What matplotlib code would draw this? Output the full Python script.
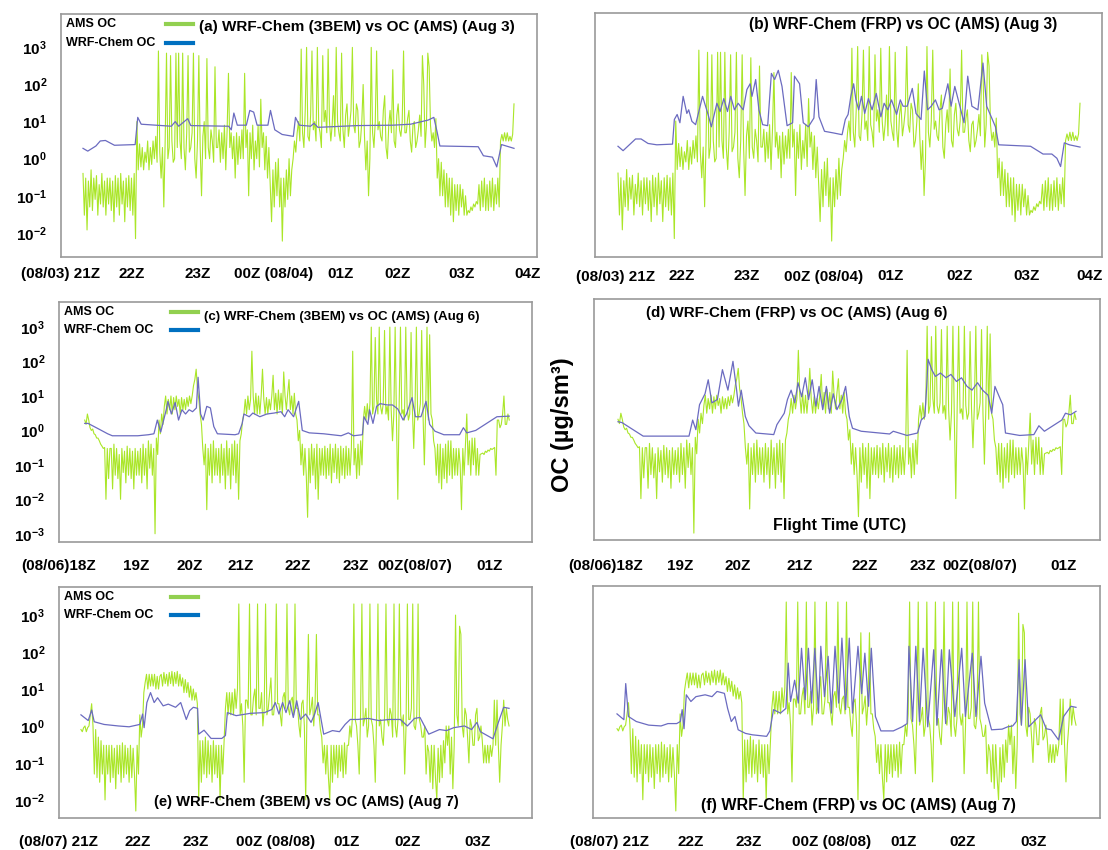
import matplotlib.pyplot as plt
import numpy as np

plt.rcParams['font.family'] = ['Liberation Sans', 'DejaVu Sans']
plt.rcParams['font.weight'] = 'bold'
plt.rcParams['mathtext.fontset'] = 'custom'
plt.rcParams['mathtext.rm'] = 'Liberation Sans:bold'
plt.rcParams['mathtext.bf'] = 'Liberation Sans:bold'

# AMS OC (ug/sm3), samples evenly spread over each flight
ams_aug3 = [
    0.4, 0.03, 0.3, 0.012, 0.25, 0.05, 0.5, 0.04, 0.3, 0.08, 0.35, 0.03, 0.2, 0.06, 0.4, 0.05, 0.25, 0.03, 0.3, 0.06,
    0.3, 0.04, 0.25, 0.02, 0.35, 0.05, 0.3, 0.03, 0.4, 0.06, 0.25, 0.02, 0.3, 0.05, 0.35, 0.04, 0.3, 0.03, 0.4, 0.007,
    10, 0.5, 2.5, 0.6, 2, 0.5, 1.5, 0.8, 3, 0.5, 2, 0.7, 3, 1, 4, 0.8, 800, 1.5, 0.3, 2,
    0.05, 3, 700, 1, 2, 600, 3, 0.8, 1, 700, 2, 700, 3, 1, 700, 2, 0.5, 5, 600, 1.5,
    2, 5, 700, 1, 0.3, 3, 600, 2, 0.1, 4, 10, 1, 500, 2, 1, 6, 3, 0.8, 300, 2,
    2, 6, 0.8, 5, 1, 8, 0.5, 6, 200, 2, 5, 1, 4, 0.3, 5, 0.7, 4, 1, 6, 1,
    200, 2, 6, 0.1, 5, 1, 8, 0.5, 3, 1, 8, 0.6, 40, 2, 5, 0.5, 4, 0.3, 2, 0.2,
    0.02, 0.5, 0.05, 0.8, 0.1, 1, 0.05, 0.3, 0.006, 0.3, 0.05, 0.5, 0.08, 1, 0.1, 0.5, 1, 3, 1.5, 5,
    10, 3, 900, 5, 2, 20, 1000, 4, 3, 15, 800, 6, 10, 3, 1000, 8, 5, 2, 600, 10,
    20, 5, 900, 10, 3, 8, 50, 4, 1000, 10, 5, 3, 700, 6, 2, 15, 30, 4, 8, 20,
    1000, 8, 5, 30, 20, 2, 3, 10, 100, 4, 0.5, 3, 0.1, 1, 1000, 5, 2, 10, 800, 6,
    10, 4, 3, 20, 50, 2, 1, 8, 20, 5, 250, 3, 2, 15, 30, 6, 4, 10, 800, 5,
    5, 12, 20, 3, 1.5, 8, 10, 2, 3, 6, 15, 4, 600, 100, 2, 8, 700, 300, 8, 3,
    5, 2, 12, 0.3, 1, 0.1, 0.8, 0.1, 0.5, 0.05, 0.4, 0.05, 0.3, 0.03, 0.3, 0.02, 0.2, 0.04, 0.2, 0.03,
    0.2, 0.05, 0.15, 0.03, 0.1, 0.03, 0.04, 0.035, 0.05, 0.04, 0.06, 0.05, 0.07, 0.06, 0.2, 0.04, 0.25, 0.05, 0.3, 0.04,
    0.2, 0.04, 0.25, 0.05, 0.3, 0.04, 0.2, 0.06, 0.3, 0.05, 3, 4.5, 3, 5, 3, 5, 3, 4, 3, 4.5,
    30]

ams_aug6 = [
    2, 1.5, 3, 2, 1.2, 1.0, 1.1, 0.8, 0.75, 0.6, 0.6, 0.5, 0.4, 0.35, 0.3, 0.32, 0.01, 0.3, 0.04, 0.3,
    0.3, 0.02, 0.4, 0.05, 0.3, 0.04, 0.2, 0.01, 0.3, 0.06, 0.25, 0.03, 0.35, 0.05, 0.3, 0.04, 0.25, 0.02, 0.3, 0.05,
    0.25, 0.05, 0.3, 0.03, 0.4, 0.05, 0.3, 0.02, 0.5, 0.08, 0.4, 0.05, 0.3, 0.001, 0.6, 0.2, 2, 0.8, 3, 1.5,
    5, 10, 3, 8, 4, 10, 3, 9, 4, 10, 5, 8, 3, 9, 4, 8, 4, 9, 5, 10,
    6, 10, 20, 30, 60, 15, 8, 3, 1.5, 0.3, 0.1, 0.4, 0.005, 0.3, 0.05, 0.4, 0.03, 0.5, 0.05, 0.3,
    0.05, 0.3, 0.03, 0.4, 0.05, 0.3, 0.02, 0.5, 0.05, 0.3, 0.02, 0.4, 0.05, 0.5, 0.03, 0.4, 0.01, 0.5, 0.8, 2,
    3, 8, 3, 10, 4, 8, 200, 10, 3, 12, 3, 10, 3, 10, 60, 8, 3, 9, 3, 8,
    4, 10, 40, 4, 12, 3, 15, 4, 12, 3, 50, 10, 4, 12, 30, 4, 10, 3, 12, 3,
    2, 0.5, 1, 0.1, 0.4, 0.05, 0.3, 0.05, 0.003, 0.3, 0.03, 0.4, 0.05, 0.3, 0.02, 0.4, 0.01, 0.3, 0.05, 0.3,
    0.05, 0.35, 0.04, 0.3, 0.05, 0.4, 0.03, 0.3, 0.06, 0.4, 0.04, 0.3, 0.03, 0.35, 0.05, 0.3, 0.04, 0.35, 0.05, 0.3,
    0.05, 0.3, 200, 0.1, 0.3, 0.04, 0.4, 0.05, 0.5, 0.1, 2, 5, 2, 6, 2, 6, 1000, 3, 5, 500,
    8, 3, 1000, 5, 3, 6, 800, 3, 5, 2, 1000, 4, 0.5, 3, 1000, 2, 0.01, 5, 1000, 3,
    4, 2, 1000, 5, 2, 3, 700, 4, 0.3, 5, 1000, 2, 3, 6, 800, 3, 0.1, 4, 1000, 2,
    600, 3, 2, 0.5, 0.3, 0.05, 0.4, 0.03, 0.4, 0.02, 0.3, 0.04, 0.4, 0.03, 0.5, 0.05, 0.5, 0.04, 0.3, 0.05,
    0.3, 0.05, 0.3, 0.1, 0.005, 0.3, 0.05, 0.4, 3, 0.1, 0.5, 0.05, 0.6, 0.1, 0.6, 0.05, 0.3, 0.05, 0.2, 0.21,
    0.22, 0.2, 0.25, 0.23, 0.27, 0.25, 0.3, 0.28, 0.3, 0.32, 0.05, 2, 2, 1.2, 1.5, 3, 10, 1.5, 1.5, 3,
    2]

ams_aug7 = [
    0.8, 0.7, 0.9, 1, 0.7, 0.9, 1.0, 2, 4, 1, 0.05, 0.8, 0.04, 0.5, 0.03, 0.4, 0.05, 0.3, 0.01, 0.3,
    0.05, 0.3, 0.03, 0.3, 0.04, 0.25, 0.02, 0.3, 0.05, 0.3, 0.03, 0.35, 0.04, 0.3, 0.05, 0.25, 0.03, 0.3, 0.04, 0.25,
    0.05, 0.005, 0.3, 0.05, 2, 0.5, 1, 8, 15, 25, 10, 25, 12, 25, 12, 25, 10, 22, 10, 22,
    25, 12, 28, 14, 25, 12, 28, 14, 30, 12, 28, 14, 30, 12, 25, 12, 20, 8, 18, 8,
    15, 6, 12, 5, 10, 5, 8, 4, 0.01, 0.4, 0.03, 0.4, 0.05, 0.5, 0.04, 0.4, 0.05, 0.3, 0.03, 0.4,
    0.05, 0.3, 0.04, 0.3, 0.01, 0.3, 0.05, 0.4, 3, 8, 2, 8, 2, 8, 2, 10, 3, 10, 2000, 2,
    4, 1, 0.03, 5, 5, 3, 2000, 2, 2, 6, 10, 2, 2000, 3, 3, 8, 1, 3, 2000, 2,
    3, 8, 20, 2, 2, 5, 2000, 4, 4, 2, 1, 6, 8, 3, 2000, 3, 2, 5, 6, 2,
    2000, 3, 3, 1, 0.5, 4, 5, 1, 0.01, 3, 300, 2, 3, 6, 1, 4, 300, 2, 2, 0.8,
    0.5, 0.1, 0.3, 0.05, 0.3, 0.04, 0.01, 0.3, 0.03, 0.3, 0.05, 0.3, 0.04, 0.3, 0.06, 0.3, 0.04, 0.35, 0.05, 0.3,
    0.3, 1, 0.5, 2, 2000, 1.5, 1, 0.3, 0.05, 2, 2000, 1, 1.5, 3, 0.5, 1, 2000, 1.5, 1, 0.3,
    0.03, 2, 2000, 1, 1.5, 0.5, 0.3, 2, 2000, 1.5, 1, 3, 2, 0.5, 2000, 1, 0.5, 1.5, 2000, 2,
    1, 2, 0.05, 1, 2000, 1.5, 1.5, 3, 2000, 1, 0.8, 2, 2000, 1.5, 1, 0.5, 0.5, 1, 0.05, 0.3,
    0.2, 0.03, 0.3, 0.02, 0.3, 0.04, 0.01, 0.25, 0.03, 0.3, 0.04, 0.4, 0.1, 1, 0.3, 1, 0.05, 0.5, 0.02, 0.3,
    1000, 2, 1, 500, 300, 1, 0.5, 3, 2, 0.5, 0.1, 1.5, 1, 0.3, 0.3, 2, 3, 0.4, 0.5, 1,
    0.4, 0.1, 0.3, 0.1, 0.3, 0.1, 0.3, 0.15, 0.3, 5, 0.3, 5, 0.3, 0.03, 0.3, 1, 5, 1, 3, 1.5,
    1.0]

# WRF-Chem OC: time in % of flight, value
wrf_3bem_aug3_t = [
    0, 1.1, 3, 4, 5.2, 7.3, 12.1, 12.7, 13.5, 20.5,
    21.4, 22.2, 24.3, 25, 33.8, 34.4, 35, 35.8, 37.9, 38.7,
    39.6, 40.4, 42.9, 43.5, 44.5, 46.2, 48.8, 49.3, 50.2, 52.8,
    53.6, 54.5, 63.6, 71.9, 76, 80.1, 81.4, 82.2, 82.8, 91.7,
    92.9, 95, 96, 97.1, 100]
wrf_3bem_aug3 = [
    1.9, 1.6, 2.2, 3.0, 3.1, 2.3, 2.4, 13, 8.5, 7.5,
    10, 7.5, 12, 7.8, 7.5, 6, 17, 8, 8, 20,
    18, 8, 8, 20, 6, 4.5, 4, 13, 8, 7.5,
    9, 7, 7.8, 8, 8.5, 11, 13, 5, 2.2, 2.1,
    1.2, 1.1, 0.6, 2.4, 1.9]

wrf_frp_aug3_t = [
    0, 1.1, 3.8, 5, 6.5, 8.4, 11.8, 12.2, 12.8, 13.4,
    14.1, 14.9, 15.3, 16, 16.8, 18.3, 19.5, 20.2, 21.4, 22.1,
    22.9, 23.7, 24.4, 25.2, 26, 27.1, 27.9, 28.6, 29, 29.8,
    30.5, 31.3, 32.4, 33.2, 33.9, 34.7, 35.5, 36.6, 37.8, 38.2,
    39.3, 40.1, 41.2, 42.4, 42.9, 43.5, 44.7, 46.6, 48.5, 49.2,
    49.8, 50.4, 51, 51.5, 52.1, 52.7, 53.4, 54.2, 55, 55.9,
    56.9, 57.6, 58.4, 59.2, 60.3, 61.1, 61.7, 62.6, 63.7, 64.5,
    65.6, 66.3, 67, 67.8, 68.7, 69.5, 70.2, 71.4, 72.1, 72.9,
    74, 74.9, 75.7, 76.6, 77.9, 79, 79.8, 80.9, 81.7, 82.4,
    89.3, 92, 93.9, 95, 95.8, 96.6, 97.7, 100]
wrf_frp_aug3 = [
    2.1, 1.6, 3.3, 3.3, 2.5, 2.3, 2.4, 11, 15, 9,
    46, 16, 20, 9.8, 8, 46, 15, 7, 30, 18,
    40, 18, 46, 20, 30, 20, 70, 100, 46, 130,
    20, 8, 7.5, 190, 130, 230, 85, 7.5, 9, 160,
    100, 9, 7, 12, 130, 13, 5.3, 4.8, 4.3, 11,
    15, 46, 100, 37, 20, 46, 16, 40, 20, 55,
    13, 30, 20, 37, 15, 37, 25, 25, 75, 16,
    11, 220, 20, 25, 37, 20, 22, 100, 25, 85,
    25, 9, 160, 25, 20, 360, 25, 12, 7, 2.3,
    2.1, 1.3, 1.3, 1.0, 0.6, 2.6, 2.3, 2.0]

wrf_3bem_aug6_t = [
    0, 0.8, 3.3, 5.4, 6.5, 12.5, 15, 16.3, 17.1, 17.9,
    19.2, 19.6, 20.4, 21.3, 22.1, 22.9, 23.75, 24.6, 25.4, 26.3,
    26.7, 27.3, 27.9, 28.75, 29.6, 30.4, 31.25, 35.4, 36.25, 37.1,
    37.5, 38.75, 39.6, 41.25, 42.9, 44.6, 46.25, 47.1, 47.9, 49.2,
    50.4, 51.25, 52.9, 56.25, 60.4, 62.1, 63.3, 65.4, 65.8, 66.7,
    67.1, 67.9, 68.75, 69.6, 71.25, 72.5, 73.75, 75, 75.8, 77.1,
    77.9, 79.2, 80.4, 81.25, 82.5, 84.6, 88.3, 89.2, 90, 92.1,
    97.1, 100]
wrf_3bem_aug6 = [
    1.6, 1.6, 1.1, 0.8, 0.7, 0.7, 0.75, 0.8, 2.0, 0.9,
    4, 7, 3, 6.5, 2, 4, 3, 4, 3.5, 4.5,
    35, 3, 2, 5, 4.5, 1.3, 0.8, 0.75, 0.8, 1.6,
    3, 2.5, 3.2, 2.5, 3, 3.2, 3.5, 2.5, 4, 2.5,
    7, 1.0, 0.85, 0.8, 0.7, 0.85, 0.7, 0.75, 2.5, 1.5,
    4, 1.6, 5, 6, 5.5, 5.5, 4.2, 2, 3, 9,
    2.5, 2.5, 7, 1.5, 0.95, 0.75, 0.75, 1.2, 0.85, 1.0,
    2.5, 2.6]

wrf_frp_aug6_t = [
    0, 0.9, 2.8, 5.5, 15.5, 16.3, 17, 17.8, 19, 19.7,
    20.5, 21.7, 22.8, 24, 25.1, 25.9, 26.3, 26.9, 27.8, 28.6,
    30.1, 34, 34.7, 36.3, 37, 37.8, 38.6, 39.3, 40.1, 40.9,
    41.6, 42.4, 43.2, 43.9, 44.7, 45.5, 46.2, 47, 47.8, 48.9,
    49.7, 50.5, 51.2, 53.1, 59.3, 60.1, 63.1, 65.4, 66.2, 67,
    67.4, 67.7, 68.5, 69.3, 70.4, 71.6, 72.7, 73.9, 75, 76.2,
    77.3, 78.5, 79.6, 80.8, 81.6, 82.3, 83.5, 84, 84.6, 87.7,
    90.8, 91.9, 93.1, 96.9, 97.7, 98.8, 100]
wrf_frp_aug6 = [
    1.7, 1.6, 1.1, 0.65, 0.65, 1.9, 1.0, 5.3, 11, 28,
    6, 7.5, 55, 14, 96, 14, 4.8, 14, 2.4, 1.3,
    0.8, 0.72, 1.4, 3, 7.5, 14, 6, 23, 9, 32,
    7.5, 28, 4.8, 18, 3.8, 18, 3, 11, 3.8, 7.5,
    18, 2.4, 1.1, 0.9, 0.75, 0.9, 0.68, 0.8, 1.9, 2.4,
    18, 110, 55, 35, 44, 32, 40, 25, 32, 18,
    14, 23, 14, 10, 3, 18, 7.5, 5.3, 0.8, 0.68,
    0.72, 1.3, 0.9, 1.9, 3, 2.7, 3.4]

wrf_3bem_aug7_t = [
    0, 1.7, 2.5, 3.1, 5.4, 8.75, 11.25, 13.75, 14.4, 14.75,
    15.4, 16.25, 17.1, 17.9, 19.2, 20.4, 22.1, 23.3, 24.6, 25.4,
    26.25, 27.25, 27.5, 28.75, 30.4, 32.9, 33.75, 34.2, 36.25, 39.6,
    42.9, 44.6, 45.4, 46.25, 47.1, 47.9, 48.75, 49.6, 50.4, 51.25,
    52.5, 53.75, 54.6, 55.4, 56.7, 58.75, 60.4, 61.7, 62.9, 64.6,
    67.1, 69.6, 72.1, 74.6, 76.25, 77.9, 79.2, 81.25, 83.75, 85.4,
    87.1, 89.6, 91.25, 92.5, 93.3, 96.25, 97.5, 98.75, 100]
wrf_3bem_aug7 = [
    2.0, 1.4, 2.7, 1.3, 1.1, 1.0, 0.95, 1.1, 2.1, 0.9,
    4.3, 8, 4.3, 5.8, 3.5, 3.9, 3.2, 4.3, 1.5, 2.6,
    3.2, 3.0, 0.6, 0.77, 0.46, 0.46, 0.55, 2.3, 1.9, 2.2,
    2.3, 2.8, 4.3, 2.1, 4.3, 2.3, 4.8, 1.7, 4.8, 1.5,
    2.1, 1.25, 2.1, 4.3, 0.6, 0.75, 0.7, 1.1, 1.5, 1.5,
    1.6, 1.4, 1.5, 1.5, 1.0, 1.6, 1.7, 0.6, 0.8, 0.75,
    0.9, 1.0, 0.8, 1.25, 0.7, 0.45, 1.25, 3.2, 3.0]

wrf_frp_aug7_t = [
    0, 1.5, 1.9, 2.5, 4.2, 6.9, 9.6, 11.1, 13, 13.8,
    14.2, 14.6, 15.1, 16.1, 17.2, 19.2, 20.7, 21.8, 23.4, 24.1,
    24.9, 25.7, 26.4, 28, 29.5, 32.6, 33.3, 34.1, 35.6, 36.8,
    37.3, 37.8, 38.7, 39.5, 40.2, 41, 41.7, 42.4, 43.1, 43.9,
    44.4, 45.2, 46, 46.7, 47.5, 48.3, 49, 49.8, 50.6, 51.3,
    52.5, 53.3, 54, 54.8, 55.4, 56.3, 57.5, 60.2, 62.1, 63.2,
    63.6, 64.4, 65.1, 65.9, 66.7, 67.7, 69, 69.7, 70.7, 71.6,
    72.4, 73.6, 75.1, 75.9, 77.4, 78.2, 79.3, 80.1, 81.6, 83.9,
    85.1, 86.2, 87, 87.6, 88.1, 88.9, 89.7, 92.3, 93.5, 94.6,
    96.2, 97.3, 98.9, 100]
wrf_frp_aug7 = [
    2.0, 1.4, 13, 1.7, 1.25, 1.0, 0.95, 1.1, 1.1, 1.25,
    2.6, 0.8, 6.5, 4.3, 5.8, 6.5, 5.8, 8, 7.1, 2.8,
    1.25, 1.7, 0.75, 0.6, 0.55, 0.5, 0.7, 2.6, 2.1, 2.8,
    46, 4.3, 16, 3.9, 115, 4.8, 115, 3.9, 115, 2.1,
    130, 5.8, 70, 2.1, 130, 3.9, 215, 2.6, 215, 2.1,
    130, 7, 85, 3.2, 115, 1.7, 0.7, 0.7, 0.9, 1.1,
    130, 1.25, 130, 1.25, 115, 0.9, 105, 1.0, 105, 1.1,
    105, 1.7, 115, 1.7, 85, 1.7, 70, 3.9, 0.75, 0.78,
    0.9, 0.95, 1.25, 57, 1.0, 57, 0.9, 1.9, 0.8, 0.75,
    0.4, 1.7, 3.2, 3.0]

ticks_aug3 = ['(08/03) 21Z', '22Z', '23Z', '00Z (08/04)', '01Z', '02Z', '03Z', '04Z']
ticks_aug6 = ['(08/06)18Z', '19Z', '20Z', '21Z', '22Z', '23Z', '00Z(08/07)', '01Z']
ticks_aug7 = ['(08/07) 21Z', '22Z', '23Z', '00Z (08/08)', '01Z', '02Z', '03Z']

GREEN = '#aae628'
BLUE = '#6b6bc0'
W, H = 1108, 850


def draw_panel(fig, box, span, ylog, ams, wrf_t, wrf, ticks, tick_px, pad, yexp=None):
    L, T, R, B = box
    s, e = span
    ax = fig.add_axes([L / W, 1 - B / H, (R - L) / W, (B - T) / H])
    ax.plot(np.linspace(0, 100, len(ams)), ams, color=GREEN, lw=0.8)
    ax.plot(wrf_t, wrf, color=BLUE, lw=0.9)
    ax.set_yscale('log')
    ax.set_ylim(10 ** ylog[0], 10 ** ylog[1])
    ax.set_xlim((L - s) / (e - s) * 100, (R - s) / (e - s) * 100)
    ax.set_xticks([(p - s) / (e - s) * 100 for p in tick_px], ticks)
    if yexp is None:
        ax.set_yticks([])
    else:
        ax.set_yticks([10.0 ** k for k in yexp],
                      [r'$\mathbf{10^{%d}}$' % k for k in yexp])
    ax.minorticks_off()
    ax.tick_params(axis='x', length=0, pad=pad, labelsize=11)
    ax.tick_params(axis='y', length=0, pad=10, labelsize=11)
    for sp in ax.spines.values():
        sp.set_color('#9a9a9a')
        sp.set_linewidth(1.2)
    return ax


def add_legend(ax, x0, y1, y2, lx0, lx1):
    ax.text(x0, y1, 'AMS OC', transform=ax.transAxes, fontsize=9, va='center')
    ax.text(x0, y2, 'WRF-Chem OC', transform=ax.transAxes, fontsize=9, va='center')
    ax.plot([lx0, lx1], [y1, y1], transform=ax.transAxes, color='#92D050', lw=3, clip_on=False)
    ax.plot([lx0, lx1], [y2, y2], transform=ax.transAxes, color='#0070C0', lw=3, clip_on=False)


def add_title(ax, x, y, text, size):
    ax.text(x, y, text, transform=ax.transAxes, ha='center', va='center',
            fontsize=size, fontweight='bold')


if __name__ == '__main__':
    fig = plt.figure(figsize=(W / 100, H / 100), dpi=100)

    ax = draw_panel(fig, (61, 14, 537, 257), (83, 514), (-2.65, 3.9), ams_aug3,
                    wrf_3bem_aug3_t, wrf_3bem_aug3, ticks_aug3,
                    [61, 132, 198, 274, 341, 398, 462, 528], 7, yexp=[3, 2, 1, 0, -1, -2])
    add_legend(ax, 0.011, 0.959, 0.881, 0.221, 0.277)
    add_title(ax, 0.622, 0.947, '(a) WRF-Chem (3BEM) vs OC (AMS) (Aug 3)', 11)

    ax = draw_panel(fig, (595, 13, 1102, 257), (618, 1080), (-2.65, 3.9), ams_aug3,
                    wrf_frp_aug3_t, wrf_frp_aug3, ticks_aug3,
                    [616, 682, 747, 824, 891, 960, 1027, 1090], 9)
    add_title(ax, 0.607, 0.951, '(b) WRF-Chem (FRP) vs OC (AMS) (Aug 3)', 11.2)

    ax = draw_panel(fig, (59, 302, 532, 542), (80, 509), (-3.24, 3.73), ams_aug6,
                    wrf_3bem_aug6_t, wrf_3bem_aug6, ticks_aug6,
                    [54, 132, 186, 238, 295, 354, 414, 489], 12, yexp=[3, 2, 1, 0, -1, -2, -3])
    add_legend(ax, 0.011, 0.958, 0.883, 0.237, 0.294)
    add_title(ax, 0.598, 0.938, '(c) WRF-Chem (3BEM) vs OC (AMS) (Aug 6)', 9.6)

    ax = draw_panel(fig, (594, 299, 1100, 540), (618, 1076), (-3.2, 3.79), ams_aug6,
                    wrf_frp_aug6_t, wrf_frp_aug6, ticks_aug6,
                    [606, 680, 738, 800, 865, 923, 980, 1064], 14)
    add_title(ax, 0.401, 0.942, '(d) WRF-Chem (FRP) vs OC (AMS) (Aug 6)', 10.9)
    ax.text(0.486, 0.062, 'Flight Time (UTC)', transform=ax.transAxes, ha='center',
            va='center', fontsize=11.5)

    ax = draw_panel(fig, (59, 587, 532, 818), (80, 509), (-2.49, 3.76), ams_aug7,
                    wrf_3bem_aug7_t, wrf_3bem_aug7, ticks_aug7,
                    [58, 137, 195, 275, 346, 407, 477], 12, yexp=[3, 2, 1, 0, -1, -2])
    add_legend(ax, 0.011, 0.957, 0.879, 0.237, 0.294)
    add_title(ax, 0.524, 0.069, '(e) WRF-Chem (3BEM) vs OC (AMS) (Aug 7)', 10.6)

    ax = draw_panel(fig, (593, 586, 1100, 818), (617, 1076), (-2.49, 3.73), ams_aug7,
                    wrf_frp_aug7_t, wrf_frp_aug7, ticks_aug7,
                    [610, 691, 749, 832, 904, 963, 1034], 12)
    add_title(ax, 0.523, 0.052, '(f) WRF-Chem (FRP) vs OC (AMS) (Aug 7)', 11.5)

    fig.text(563 / W, 1 - 425 / H, 'OC (µg/sm³)', rotation=90, ha='center',
             va='center', fontsize=17)

    fig.savefig('out.png', dpi=100)
